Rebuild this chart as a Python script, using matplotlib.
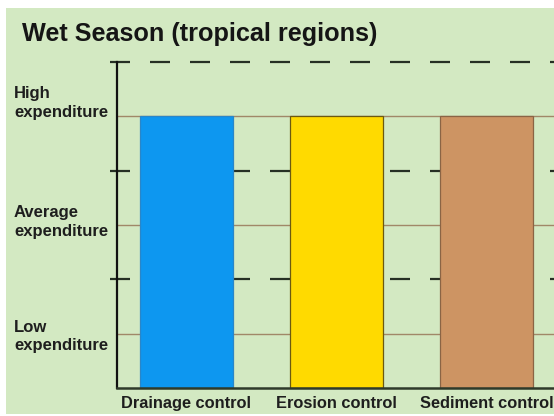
import matplotlib
matplotlib.use("Agg")
import matplotlib.pyplot as plt
from matplotlib.patches import Rectangle
from matplotlib.transforms import blended_transform_factory

plt.rcParams['font.family'] = ['Liberation Sans', 'DejaVu Sans']
plt.rcParams['lines.scale_dashes'] = False

title = "Wet Season (tropical regions)"
categories = ["Drainage control", "Erosion control", "Sediment control"]
spend = [5, 5, 5]
bar_colors = ["#0d97f0", "#ffda00", "#cd9463"]
edge_colors = ["#2a86c8", "#6b5a10", "#8a6444"]

level_names = ["Low\nexpenditure", "Average\nexpenditure", "High\nexpenditure"]
level_values = [1, 3, 5]
level_label_y = [0.95, 3.05, 5.25]
dash_values = [2, 4, 6]

bg = "#d3e9c2"

fig = plt.figure(figsize=(5.54, 4.16), dpi=100, facecolor="white")
fig.patches.append(Rectangle((6 / 554, 2 / 416), 1, (416 - 10) / 416,
                             transform=fig.transFigure, facecolor=bg,
                             edgecolor="none", zorder=-10))

ax = fig.add_axes([117 / 554, 28 / 416, 437 / 554, 326 / 416])
ax.set_facecolor(bg)
ax.patch.set_alpha(0)

x = list(range(len(categories)))
ax.set_xlim(-0.4633, 2.450)
ax.set_ylim(0, 6)

# solid guide lines at each level
for v in level_values:
    ax.axhline(v, color="#a08868", lw=1.0, zorder=1)

# dashed lines between levels, starting just left of the axis
for v in dash_values:
    ax.plot([-0.51, 2.45], [v, v], color="#263024", lw=1.6,
            linestyle=(0, (14.4, 14.4)), clip_on=False, zorder=1)

ax.bar(x, spend, width=0.62, color=bar_colors, edgecolor=edge_colors,
       linewidth=0.9, zorder=3)

for side in ["top", "right"]:
    ax.spines[side].set_visible(False)
ax.spines["left"].set_color("#111111")
ax.spines["left"].set_linewidth(1.6)
ax.spines["bottom"].set_color("#2e3a2a")
ax.spines["bottom"].set_linewidth(1.8)
for s in ax.spines.values():
    s.set_zorder(4)

ax.set_yticks([])
ax.set_xticks(x)
ax.set_xticklabels(categories, fontsize=11.8, fontweight="bold", color="#1e1e1e")
ax.tick_params(axis="x", length=0, pad=6)

trans = blended_transform_factory(fig.transFigure, ax.transData)
for name, y in zip(level_names, level_label_y):
    fig.text(14 / 554, y, name, transform=trans, fontsize=12,
             fontweight="bold", color="#1e1e1e", ha="left", va="center",
             linespacing=1.3)

fig.text(22 / 554, 1 - 34 / 416, title, fontsize=18.2, fontweight="bold",
         color="#151515", ha="left", va="center")

fig.savefig("out.png", dpi=100, facecolor=fig.get_facecolor())
